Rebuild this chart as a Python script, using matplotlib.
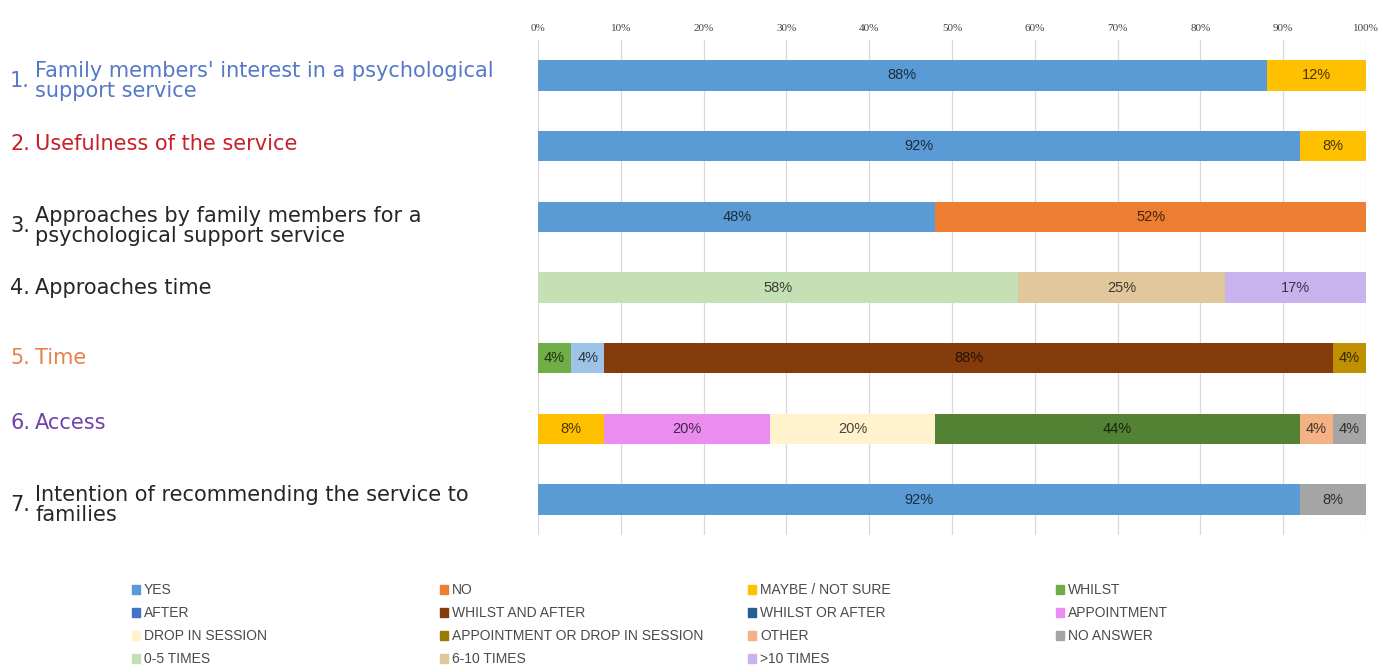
import matplotlib
matplotlib.use("Agg")
import matplotlib.pyplot as plt
import numpy as np
from matplotlib.patches import Rectangle
from matplotlib.transforms import blended_transform_factory

# questions (rows, top to bottom)
numbers = ["1.", "2.", "3.", "4.", "5.", "6.", "7."]
questions = [
    "Family members' interest in a psychological\nsupport service",
    "Usefulness of the service",
    "Approaches by family members for a\npsychological support service",
    "Approaches time",
    "Time",
    "Access",
    "Intention of recommending the service to\nfamilies",
]
question_colors = ["#5578C8", "#C8202A", "#262626", "#262626", "#E8804A", "#7440A8", "#262626"]

# answer series, in stacking order
series = ["YES", "NO", "MAYBE / NOT SURE", "WHILST", "AFTER", "WHILST AND AFTER",
          "WHILST OR AFTER", "APPOINTMENT", "DROP IN SESSION",
          "APPOINTMENT OR DROP IN SESSION", "OTHER", "NO ANSWER",
          "0-5 TIMES", "6-10 TIMES", ">10 TIMES"]
bar_colors = ["#5B9BD5", "#ED7D31", "#FFC000", "#70AD47", "#9DC3E6", "#843C0C",
              "#BF9000", "#EA8CF0", "#FFF2CC", "#548235", "#F4B183", "#A5A5A5",
              "#C5E0B4", "#E0C89C", "#C9B3EE"]
legend_colors = ["#5B9BD5", "#ED7D31", "#FFC000", "#70AD47", "#4472C4", "#843C0C",
                 "#255E91", "#EA8CF0", "#FFF2CC", "#9C7A00", "#F4B183", "#A5A5A5",
                 "#C5E0B4", "#E0C89C", "#C9B3EE"]

# percentages per question, one list per series
yes        = [88, 92, 48, 0, 0, 0, 92]
no         = [0, 0, 52, 0, 0, 0, 0]
maybe      = [12, 8, 0, 0, 0, 8, 0]
whilst     = [0, 0, 0, 0, 4, 0, 0]
after      = [0, 0, 0, 0, 4, 0, 0]
whilst_and = [0, 0, 0, 0, 88, 0, 0]
whilst_or  = [0, 0, 0, 0, 4, 0, 0]
appoint    = [0, 0, 0, 0, 0, 20, 0]
drop_in    = [0, 0, 0, 0, 0, 20, 0]
appt_or_dr = [0, 0, 0, 0, 0, 44, 0]
other      = [0, 0, 0, 0, 0, 4, 0]
no_answer  = [0, 0, 0, 0, 0, 4, 8]
t0_5       = [0, 0, 0, 58, 0, 0, 0]
t6_10      = [0, 0, 0, 25, 0, 0, 0]
t10        = [0, 0, 0, 17, 0, 0, 0]
values = [yes, no, maybe, whilst, after, whilst_and, whilst_or, appoint, drop_in,
          appt_or_dr, other, no_answer, t0_5, t6_10, t10]

fig = plt.figure(figsize=(13.95, 6.66), dpi=100)
ax = fig.add_axes([538 / 1395, 1 - 535 / 666, 828 / 1395, 495 / 666])

y = np.arange(len(questions))
left = np.zeros(len(questions))
for vals, col in zip(values, bar_colors):
    vals = np.array(vals, dtype=float)
    bars = ax.barh(y, vals, left=left, height=0.43, color=col, zorder=2)
    rgb = np.array(matplotlib.colors.to_rgb(col)) * 0.28
    for b, v in zip(bars, vals):
        if v > 0:
            ax.text(b.get_x() + b.get_width() / 2, b.get_y() + b.get_height() / 2,
                    f"{v:.0f}%", ha="center", va="center", fontsize=10.5,
                    family="Liberation Sans", color=rgb, zorder=3)
    left += vals

ax.set_xlim(0, 100)
ax.set_ylim(len(questions) - 0.5, -0.5)
ax.set_xticks(np.arange(0, 101, 10))
ax.set_xticklabels([f"{t}%" for t in range(0, 101, 10)], family="Liberation Serif",
                   fontsize=8, color="#404040")
ax.xaxis.tick_top()
ax.tick_params(axis="x", length=0, pad=5)
ax.set_yticks([])
ax.grid(axis="x", color="#D9D9D9", linewidth=0.9, zorder=0)
for s in ax.spines.values():
    s.set_visible(False)

# question labels on the left
tr = blended_transform_factory(fig.transFigure, ax.transData)
offsets = [0.08, -0.03, 0.13, 0.0, -0.01, -0.08, 0.08]
for i, (n, q, c) in enumerate(zip(numbers, questions, question_colors)):
    ax.text(10 / 1395, i + offsets[i], n, transform=tr, ha="left", va="center",
            fontsize=15, family="DejaVu Sans", color=c, linespacing=1.02)
    ax.text(35 / 1395, i + offsets[i], q, transform=tr, ha="left", va="center",
            fontsize=15, family="DejaVu Sans", color=c, linespacing=1.02)

# legend, four entries per row
for i, (name, col) in enumerate(zip(series, legend_colors)):
    r, cidx = divmod(i, 4)
    x0 = (132 + cidx * 308) / 1395
    y0 = 1 - (590 + r * 23) / 666
    fig.add_artist(Rectangle((x0, y0 - 4 / 666), 8 / 1395, 9 / 666,
                             transform=fig.transFigure, color=col))
    fig.text(x0 + 12 / 1395, y0, name, ha="left", va="center", fontsize=10,
             family="Liberation Sans", color="#4a4a4a")

fig.savefig("out.png", dpi=100)
